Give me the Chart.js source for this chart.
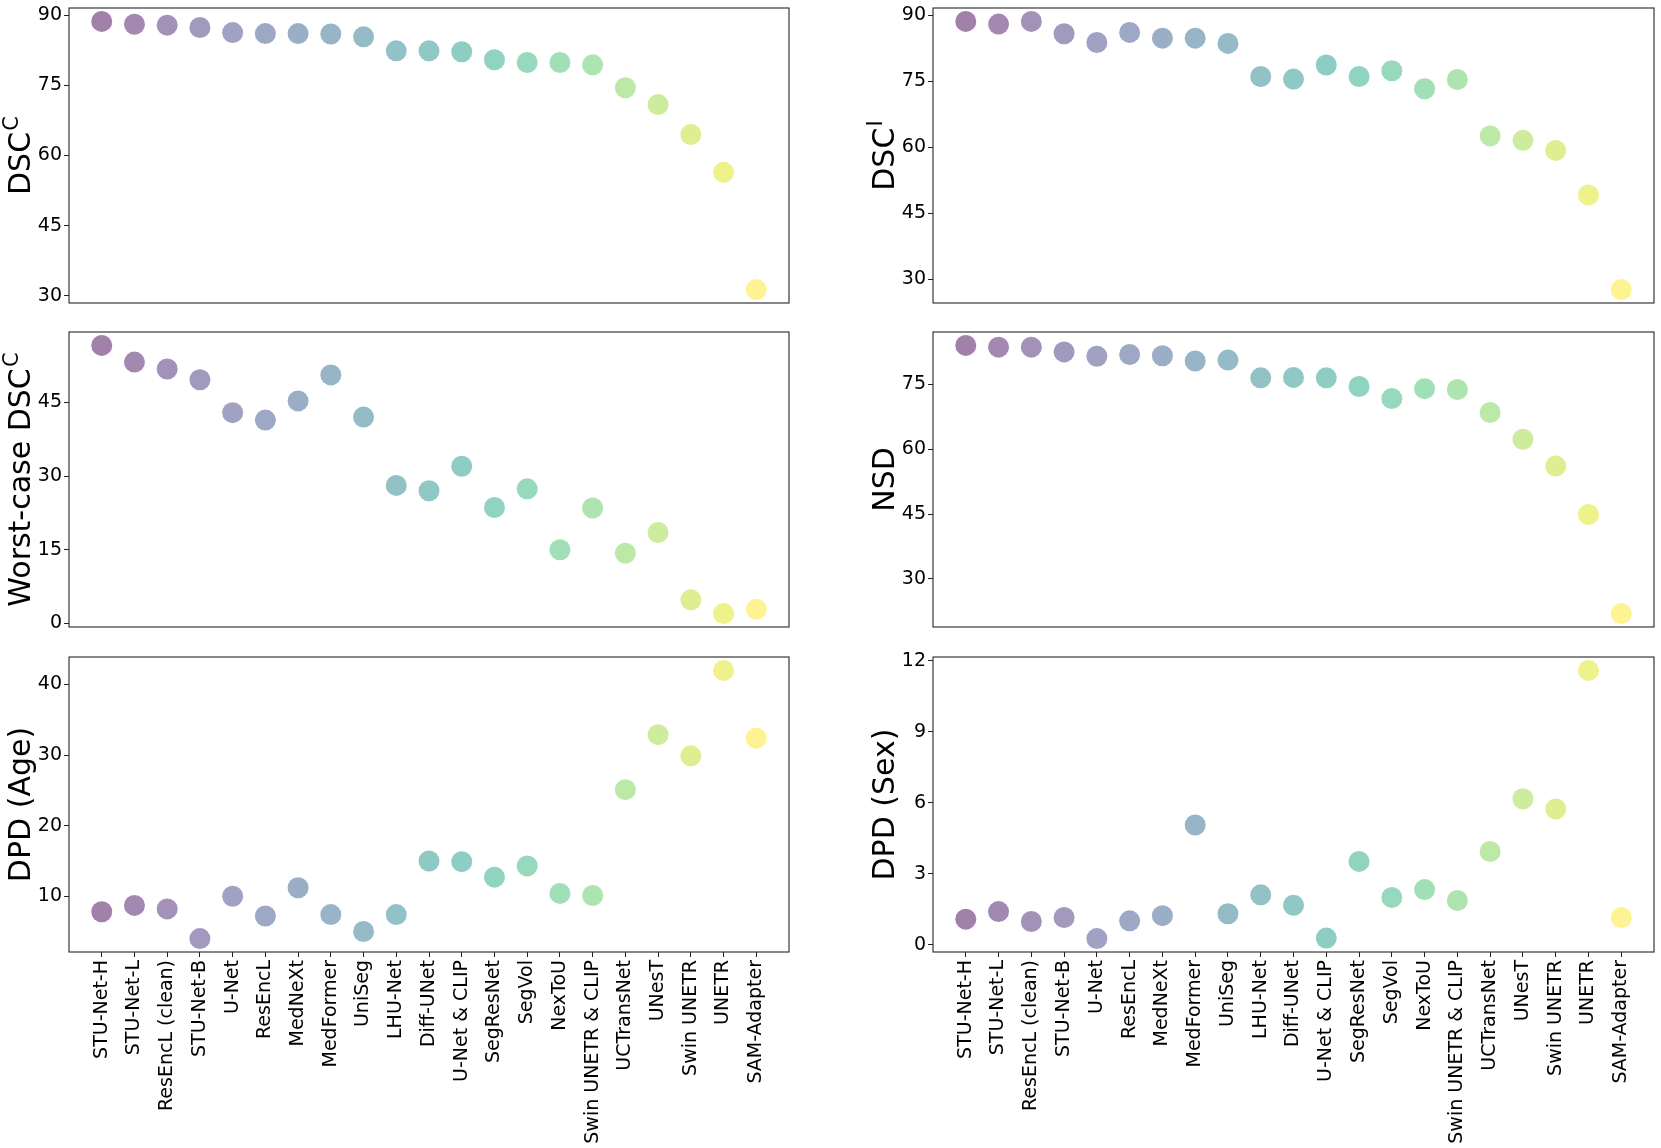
<!DOCTYPE html>
<html><head><meta charset="utf-8">
<script src="https://cdn.jsdelivr.net/npm/chart.js@4.4.0/dist/chart.umd.min.js"></script>
<style>
html,body{margin:0;padding:0;background:#fff;}
body{width:1661px;height:1148px;position:relative;overflow:hidden;}
canvas{position:absolute;}
</style></head><body>
<script>
// ---------- data ----------
const categories = ["STU-Net-H","STU-Net-L","ResEncL (clean)","STU-Net-B","U-Net","ResEncL","MedNeXt","MedFormer","UniSeg","LHU-Net","Diff-UNet","U-Net & CLIP","SegResNet","SegVol","NexToU","Swin UNETR & CLIP","UCTransNet","UNesT","Swin UNETR","UNETR","SAM-Adapter"];
const dscC = [88.7, 88.1, 87.9, 87.4, 86.3, 86.1, 86.1, 86.0, 85.4, 82.4, 82.4, 82.2, 80.5, 79.9, 79.9, 79.4, 74.5, 70.9, 64.5, 56.4, 31.3];
const dscI = [88.6, 88.0, 88.6, 85.8, 83.8, 86.1, 84.8, 84.8, 83.6, 76.1, 75.5, 78.7, 76.1, 77.4, 73.3, 75.4, 62.6, 61.6, 59.3, 49.2, 27.7];
const worstDscC = [56.6, 53.2, 51.8, 49.6, 42.9, 41.4, 45.3, 50.6, 42.0, 28.1, 27.0, 32.0, 23.6, 27.4, 15.0, 23.5, 14.3, 18.5, 4.8, 2.0, 2.9];
const nsd = [84.0, 83.6, 83.6, 82.5, 81.5, 81.9, 81.6, 80.4, 80.6, 76.5, 76.6, 76.5, 74.5, 71.7, 74.0, 73.8, 68.5, 62.3, 56.1, 44.9, 22.0];
const dpdAge = [7.8, 8.7, 8.2, 4.0, 10.0, 7.2, 11.2, 7.4, 5.0, 7.4, 15.0, 14.9, 12.7, 14.3, 10.4, 10.1, 25.1, 32.9, 29.9, 42.0, 32.4];
const dpdSex = [1.08, 1.40, 0.98, 1.15, 0.26, 1.01, 1.23, 5.06, 1.31, 2.11, 1.67, 0.28, 3.52, 2.00, 2.33, 1.87, 3.94, 6.17, 5.74, 11.59, 1.15];

const ticksDscC = [30, 45, 60, 75, 90];
const ticksDscI = [30, 45, 60, 75, 90];
const ticksWorst = [0, 15, 30, 45];
const ticksNsd = [30, 45, 60, 75];
const ticksAge = [10, 20, 30, 40];
const ticksSex = [0, 3, 6, 9, 12];

const titleDscC = ["DSC", "C"];
const titleDscI = ["DSC", "I"];
const titleWorst = ["Worst-case DSC", "C"];
const titleNsd = ["NSD", ""];
const titleAge = ["DPD (Age)", ""];
const titleSex = ["DPD (Sex)", ""];

// ---------- style ----------
const viridis = ["#440154","#471365","#482475","#463480","#414487","#3b528b","#355f8d","#2f6c8e","#2a788e","#25848e","#21918c","#1e9c89","#22a884","#2fb47c","#44bf70","#5ec962","#7ad151","#9bd93c","#bddf26","#dfe318","#fde725"];
function rgba(hex, a){const n=parseInt(hex.slice(1),16);return `rgba(${n>>16},${(n>>8)&255},${n&255},${a})`;}
const pointColors = viridis.map(c => rgba(c, 0.5));

Chart.defaults.font.family = "'DejaVu Sans', sans-serif";
Chart.defaults.color = '#000';

const FONT_TICK = 19;
const FONT_TITLE = 30;
const Y_W = 69, PAD = 16, PAD_R = 6, X_H = 196;
const colAxLeft = [69, 933], colAxRight = [789, 1654];
const rowAxTop = [7.5, 332, 656.5], AX_H = 295;

const framePlugin = {
  id: 'frame',
  afterDraw(chart) {
    const {ctx, chartArea: a} = chart;
    ctx.save();
    ctx.strokeStyle = '#262626'; ctx.lineWidth = 1.1;
    ctx.strokeRect(a.left, a.top, a.right - a.left, a.bottom - a.top);
    ctx.restore();
  }
};
const ytitlePlugin = {
  id: 'ytitle',
  afterDraw(chart, args, opts) {
    const {ctx, chartArea: a} = chart;
    const fs = opts.size;
    ctx.save();
    ctx.fillStyle = '#000';
    ctx.textBaseline = 'alphabetic';
    ctx.textAlign = 'left';
    ctx.translate(a.left - opts.gap, (a.top + a.bottom) / 2);
    ctx.rotate(-Math.PI / 2);
    ctx.font = `${fs}px 'DejaVu Sans'`;
    const wb = ctx.measureText(opts.base).width;
    ctx.font = `${fs * 0.7}px 'DejaVu Sans'`;
    const ws = opts.sup ? ctx.measureText(opts.sup).width + fs * 0.04 : 0;
    const w = wb + ws;
    ctx.font = `${fs}px 'DejaVu Sans'`;
    ctx.fillText(opts.base, -w / 2, 0);
    if (opts.sup) {
      ctx.font = `${fs * 0.7}px 'DejaVu Sans'`;
      ctx.fillText(opts.sup, -w / 2 + wb + fs * 0.04, -fs * 0.4);
    }
    ctx.restore();
  }
};

const panels = [
  {values: dscC, ticks: ticksDscC, title: titleDscC, col: 0, row: 0},
  {values: dscI, ticks: ticksDscI, title: titleDscI, col: 1, row: 0},
  {values: worstDscC, ticks: ticksWorst, title: titleWorst, col: 0, row: 1},
  {values: nsd, ticks: ticksNsd, title: titleNsd, col: 1, row: 1},
  {values: dpdAge, ticks: ticksAge, title: titleAge, col: 0, row: 2},
  {values: dpdSex, ticks: ticksSex, title: titleSex, col: 1, row: 2},
];

panels.forEach(p => {
  const bottom = p.row === 2;
  const cv = document.createElement('canvas');
  const left = colAxLeft[p.col] - Y_W;
  const top = rowAxTop[p.row] - PAD;
  const w = colAxRight[p.col] - left + PAD_R;
  const h = PAD + AX_H + (bottom ? X_H : PAD);
  cv.width = w; cv.height = h;
  cv.style.left = left + 'px'; cv.style.top = top + 'px';
  cv.style.width = w + 'px'; cv.style.height = h + 'px';
  document.body.appendChild(cv);

  const vmin = Math.min(...p.values), vmax = Math.max(...p.values);
  const m = (vmax - vmin) * 0.05;
  const tickGrid = {drawOnChartArea: false, drawTicks: true, tickLength: 5, color: '#222', lineWidth: 1};

  new Chart(cv, {
    type: 'scatter',
    data: {datasets: [{
      data: p.values.map((v, i) => ({x: i, y: v})),
      backgroundColor: pointColors,
      borderWidth: 0,
      pointRadius: 10.5,
      pointHoverRadius: 10.5,
      clip: false
    }]},
    options: {
      responsive: false, animation: false, events: [], devicePixelRatio: 1,
      layout: {autoPadding: false, padding: {top: PAD, right: PAD_R, bottom: bottom ? 0 : PAD, left: 0}},
      plugins: {
        legend: {display: false}, tooltip: {enabled: false},
        ytitle: {base: p.title[0], sup: p.title[1], size: FONT_TITLE, gap: 39}
      },
      scales: {
        x: {
          type: 'linear', min: -1, max: categories.length, display: bottom,
          afterBuildTicks: s => { s.ticks = categories.map((c, i) => ({value: i})); },
          afterFit: s => { if (bottom) s.height = X_H; },
          ticks: {autoSkip: false, minRotation: 90, maxRotation: 90, padding: 3,
                  font: {size: FONT_TICK}, callback: (v, i) => categories[i]},
          grid: tickGrid, border: {display: false}
        },
        y: {
          type: 'linear', min: vmin - m, max: vmax + m,
          afterBuildTicks: s => { s.ticks = p.ticks.map(v => ({value: v})); },
          afterFit: s => { s.width = Y_W; },
          ticks: {padding: 2, font: {size: FONT_TICK}, callback: v => String(v)},
          grid: tickGrid, border: {display: false}
        }
      }
    },
    plugins: [framePlugin, ytitlePlugin]
  });
});
</script>
</body></html>
